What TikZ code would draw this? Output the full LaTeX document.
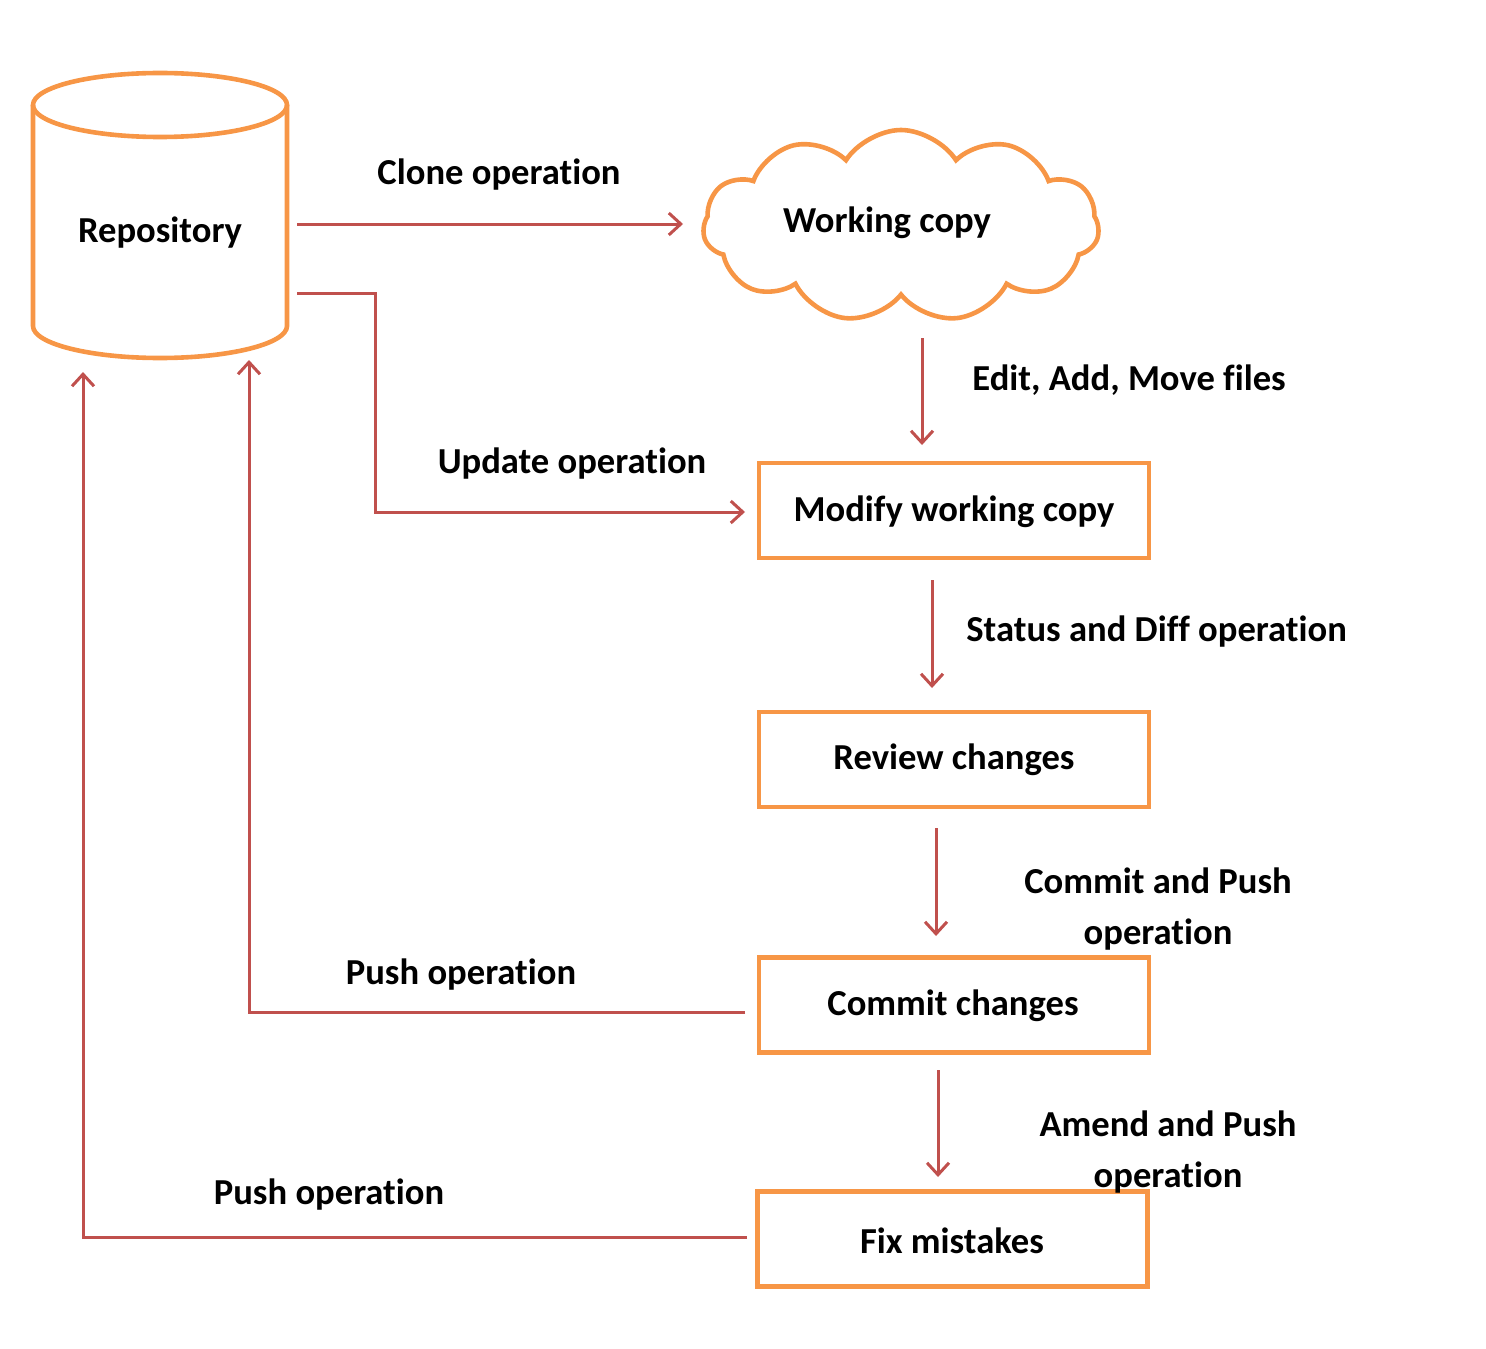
\documentclass[tikz,border=0pt]{standalone}
\usepackage{fontspec}
\setmainfont{Carlito}[Ligatures=NoCommon]
\usetikzlibrary{shapes.symbols,arrows.meta}
\definecolor{boxorange}{RGB}{247,150,70}
\definecolor{linered}{RGB}{192,80,77}
\tikzset{
  boxnode/.style={draw=boxorange,line width=2.3pt,minimum width=195pt,minimum height=47.5pt,inner sep=0pt},
  lbl/.style={font=\fontsize{18.3}{25.5}\selectfont\bfseries,inner sep=0pt},
  flow/.style={draw=linered,line width=1.5pt,-{Straight Barb[length=6pt,width=11pt,line width=1.5pt]}},
}
\begin{document}
\begin{tikzpicture}[x=0.5pt,y=-0.5pt]
\useasboundingbox (0,0) rectangle (1486,1348);
% repository cylinder
\draw[boxorange,line width=2.3pt] (33,105) -- (33,326) arc[start angle=180,end angle=0,x radius=127,y radius=32] -- (287,105);
\draw[boxorange,line width=2.3pt] (160,105) ellipse[x radius=127,y radius=32];
\node[lbl] (repo) at (160,233) {Repository};
% cloud
\node[cloud,draw=boxorange,line width=2.3pt,cloud puffs=11,cloud puff arc=115,aspect=2.04,minimum width=198pt,minimum height=96pt,inner sep=0pt] (wc) at (901,226) {};
\node[lbl] (wct) at (887,223) {Working copy};
% boxes
\node[boxnode] (mod) at (954,510.5) {};
\node[lbl] at (954,512) {Modify working copy};
\node[boxnode] (rev) at (954,759.5) {};
\node[lbl] at (954,760) {Review changes};
\node[boxnode] (com) at (954,1005) {};
\node[lbl] at (953,1006) {Commit changes};
\node[boxnode] (fix) at (952.5,1239) {};
\node[lbl] at (952,1241) {Fix mistakes};
% connector coordinates
\coordinate (cloneS) at (297,224);
\coordinate (cloneE) at (683,224);
\coordinate (updS) at (297,293);
\coordinate (updE) at (745,512);
\coordinate (e1s) at (922,338);
\coordinate (e1e) at (922,445);
\coordinate (e2s) at (932,580);
\coordinate (e2e) at (932,688);
\coordinate (e3s) at (936,828);
\coordinate (e3e) at (936,936);
\coordinate (e4s) at (938,1070);
\coordinate (e4e) at (938,1177);
\coordinate (p1s) at (745,1012);
\coordinate (p1e) at (249,360);
\coordinate (p2s) at (747,1237);
\coordinate (p2e) at (83,372);
% connectors
\draw[flow] (cloneS) -- (cloneE);
\draw[flow] (updS) -- (375,293) |- (updE);
\draw[flow] (e1s) -- (e1e);
\draw[flow] (e2s) -- (e2e);
\draw[flow] (e3s) -- (e3e);
\draw[flow] (e4s) -- (e4e);
\draw[flow] (p1s) -| (p1e);
\draw[flow] (p2s) -| (p2e);
% labels
\node[lbl] at (499,175) {Clone operation};
\node[lbl,anchor=west] at (972,380) {Edit, Add, Move files};
\node[lbl] at (572,464) {Update operation};
\node[lbl,anchor=west] at (966,632) {Status and Diff operation};
\node[lbl,align=center] at (1158,909) {Commit and Push\\operation};
\node[lbl] at (461,975) {Push operation};
\node[lbl,align=center] at (1168,1152) {Amend and Push\\operation};
\node[lbl] at (329,1195) {Push operation};
\end{tikzpicture}
\end{document}
